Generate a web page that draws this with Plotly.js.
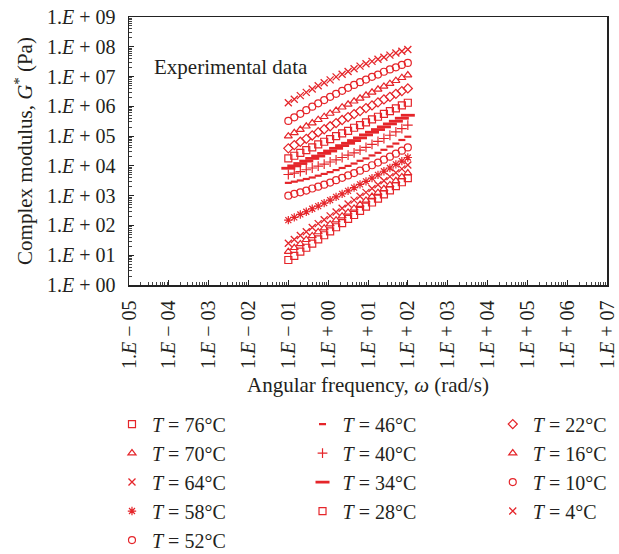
<!DOCTYPE html>
<html>
<head>
<meta charset="utf-8">
<script src="https://cdn.plot.ly/plotly-3.0.1.min.js"></script>
<style>html,body{margin:0;padding:0;background:#fff;}#chart{width:619px;height:554px;}</style>
</head>
<body>
<div id="chart"></div>
<script>
// Angular frequency (rad/s)
const omega = [0.1, 0.141, 0.2, 0.282, 0.398, 0.562, 0.794, 1.12, 1.58, 2.24, 3.16, 4.47, 6.31, 8.91, 12.6, 17.8, 25.1, 35.5, 50.1, 70.8, 100];

// Complex modulus G* (Pa) per temperature
const g76 = [6.92, 9.55, 13.2, 17.8, 24.5, 33.9, 46.8, 63.1, 87.1, 120, 166, 224, 309, 427, 589, 794, 1.10e3, 1.51e3, 2.09e3, 2.82e3, 3.89e3];
const g70 = [13.2, 17.8, 24.0, 33.1, 44.7, 60.3, 81.3, 110, 151, 204, 275, 372, 501, 692, 933, 1.26e3, 1.70e3, 2.29e3, 3.16e3, 4.27e3, 5.75e3];
const g64 = [25.1, 33.9, 45.7, 61.7, 85.1, 115, 155, 209, 282, 380, 525, 708, 955, 1.29e3, 1.74e3, 2.34e3, 3.16e3, 4.37e3, 5.89e3, 7.94e3, 1.07e4];
const g58 = [151, 186, 234, 288, 363, 447, 562, 708, 912, 1.15e3, 1.45e3, 1.86e3, 2.40e3, 3.02e3, 3.89e3, 5.01e3, 6.61e3, 8.51e3, 1.12e4, 1.45e4, 1.91e4];
const g52 = [1.00e3, 1.15e3, 1.29e3, 1.48e3, 1.74e3, 2.00e3, 2.34e3, 2.75e3, 3.31e3, 3.98e3, 4.79e3, 5.75e3, 6.92e3, 8.51e3, 1.05e4, 1.29e4, 1.62e4, 2.04e4, 2.57e4, 3.24e4, 4.17e4];
const g46 = [2.69e3, 2.95e3, 3.24e3, 3.63e3, 4.07e3, 4.68e3, 5.37e3, 6.17e3, 7.24e3, 8.51e3, 1.00e4, 1.20e4, 1.48e4, 1.78e4, 2.24e4, 2.75e4, 3.47e4, 4.47e4, 5.62e4, 7.41e4, 9.55e4];
const g40 = [5.13e3, 5.75e3, 6.46e3, 7.41e3, 8.51e3, 9.77e3, 1.15e4, 1.35e4, 1.58e4, 1.91e4, 2.29e4, 2.75e4, 3.39e4, 4.17e4, 5.25e4, 6.61e4, 8.32e4, 1.07e5, 1.38e5, 1.78e5, 2.34e5];
const g34 = [8.32e3, 1.00e4, 1.20e4, 1.45e4, 1.78e4, 2.14e4, 2.63e4, 3.16e4, 3.89e4, 4.79e4, 5.75e4, 7.08e4, 8.71e4, 1.10e5, 1.35e5, 1.66e5, 2.04e5, 2.57e5, 3.16e5, 3.98e5, 5.01e5];
const g28 = [1.78e4, 2.19e4, 2.75e4, 3.39e4, 4.17e4, 5.25e4, 6.46e4, 7.94e4, 1.00e5, 1.23e5, 1.51e5, 1.91e5, 2.34e5, 2.88e5, 3.63e5, 4.47e5, 5.62e5, 6.92e5, 8.51e5, 1.07e6, 1.32e6];
const g22 = [3.89e4, 5.01e4, 6.46e4, 8.13e4, 1.05e5, 1.35e5, 1.70e5, 2.14e5, 2.75e5, 3.47e5, 4.37e5, 5.50e5, 6.92e5, 8.71e5, 1.07e6, 1.35e6, 1.70e6, 2.09e6, 2.63e6, 3.24e6, 3.98e6];
const g16 = [1.00e5, 1.29e5, 1.66e5, 2.14e5, 2.75e5, 3.55e5, 4.47e5, 5.75e5, 7.24e5, 9.33e5, 1.17e6, 1.48e6, 1.86e6, 2.34e6, 2.95e6, 3.72e6, 4.68e6, 5.75e6, 7.24e6, 9.12e6, 1.12e7];
const g10 = [3.24e5, 4.27e5, 5.62e5, 7.41e5, 9.77e5, 1.26e6, 1.62e6, 2.09e6, 2.63e6, 3.31e6, 4.17e6, 5.25e6, 6.46e6, 7.94e6, 9.77e6, 1.17e7, 1.45e7, 1.74e7, 2.04e7, 2.45e7, 2.88e7];
const g4  = [1.32e6, 1.74e6, 2.29e6, 2.95e6, 3.80e6, 4.90e6, 6.17e6, 7.76e6, 9.77e6, 1.20e7, 1.48e7, 1.82e7, 2.24e7, 2.69e7, 3.24e7, 3.80e7, 4.47e7, 5.25e7, 6.17e7, 7.08e7, 8.13e7];

const temps = ['76', '70', '64', '58', '52', '46', '40', '34', '28', '22', '16', '10', '4'];

// Axis tick labels
const xTickVals = [1e-5, 1e-4, 1e-3, 1e-2, 1e-1, 1e0, 1e1, 1e2, 1e3, 1e4, 1e5, 1e6, 1e7];
const xTickText = ['1.<i>E</i> \u2212 05', '1.<i>E</i> \u2212 04', '1.<i>E</i> \u2212 03', '1.<i>E</i> \u2212 02', '1.<i>E</i> \u2212 01',
  '1.<i>E</i> + 00', '1.<i>E</i> + 01', '1.<i>E</i> + 02', '1.<i>E</i> + 03', '1.<i>E</i> + 04', '1.<i>E</i> + 05', '1.<i>E</i> + 06', '1.<i>E</i> + 07'];
const yTickVals = [1e0, 1e1, 1e2, 1e3, 1e4, 1e5, 1e6, 1e7, 1e8, 1e9];
const yTickText = ['1.<i>E</i> + 00', '1.<i>E</i> + 01', '1.<i>E</i> + 02', '1.<i>E</i> + 03', '1.<i>E</i> + 04',
  '1.<i>E</i> + 05', '1.<i>E</i> + 06', '1.<i>E</i> + 07', '1.<i>E</i> + 08', '1.<i>E</i> + 09'];

const RED = '#e5252a';
const TXT = '#231f20';
const FONT = 'Liberation Serif, Times New Roman, serif';

const series = [g76, g70, g64, g58, g52, g46, g40, g34, g28, g22, g16, g10, g4];
const symbols = ['square-open', 'triangle-up-open', 'x-thin-open', 'asterisk-open', 'circle-open',
  'line-ew-open', 'cross-thin-open', 'line-ew-open', 'square-open',
  'diamond-open', 'triangle-up-open', 'circle-open', 'x-thin-open'];
const sizes = [7, 7, 7, 7, 7, 5, 7, 10, 7, 7, 7, 7, 7];
const widths = [1.2, 1.2, 1.3, 1.2, 1.2, 2.2, 1.2, 2.8, 1.2, 1.2, 1.2, 1.2, 1.3];
const legendIds = ['legend', 'legend', 'legend', 'legend', 'legend',
  'legend2', 'legend2', 'legend2', 'legend2',
  'legend3', 'legend3', 'legend3', 'legend3'];

const traces = series.map((g, i) => ({
  type: 'scatter',
  mode: 'markers',
  x: omega,
  y: g,
  name: '<i>T</i> = ' + temps[i] + '\u00B0C',
  legend: legendIds[i],
  marker: {
    symbol: symbols[i],
    size: sizes[i],
    color: RED,
    line: {color: RED, width: widths[i]}
  },
  cliponaxis: false
}));

const legendBase = {
  orientation: 'v',
  bgcolor: 'rgba(0,0,0,0)',
  borderwidth: 0,
  font: {family: FONT, size: 20, color: TXT},
  xanchor: 'left',
  yanchor: 'top',
  y: -0.446,
  traceorder: 'normal',
  itemclick: false
};

const layout = {
  width: 619,
  height: 554,
  margin: {l: 129, r: 12, t: 17, b: 269, autoexpand: false},
  paper_bgcolor: '#ffffff',
  plot_bgcolor: '#ffffff',
  font: {family: FONT, size: 20, color: TXT},
  showlegend: true,
  legend: Object.assign({}, legendBase, {x: -0.0356}),
  legend2: Object.assign({}, legendBase, {x: 0.363}),
  legend3: Object.assign({}, legendBase, {x: 0.761}),
  xaxis: {
    type: 'log',
    range: [-5, 7],
    tickmode: 'array',
    tickvals: xTickVals,
    ticktext: xTickText,
    tickangle: -90,
    ticks: 'inside',
    ticklen: 5,
    tickcolor: '#222',
    ticklabelstandoff: 6,
    minor: {ticks: 'inside', ticklen: 3, dtick: 'D1', tickcolor: '#444', showgrid: false},
    showgrid: false,
    zeroline: false,
    showline: true,
    linecolor: '#222',
    linewidth: 1.5,
    mirror: true,
    automargin: false,
    tickfont: {family: FONT, size: 20, color: TXT},
    title: {text: 'Angular frequency, <i>\u03C9</i> (rad/s)', font: {family: FONT, size: 21, color: TXT}, standoff: 9}
  },
  yaxis: {
    type: 'log',
    range: [0, 9],
    tickmode: 'array',
    tickvals: yTickVals,
    ticktext: yTickText,
    ticks: 'inside',
    ticklen: 5,
    tickcolor: '#222',
    ticklabelstandoff: 8,
    minor: {ticks: 'inside', ticklen: 3, dtick: 'D1', tickcolor: '#444', showgrid: false},
    showgrid: false,
    zeroline: false,
    showline: true,
    linecolor: '#222',
    linewidth: 1.5,
    mirror: true,
    automargin: false,
    tickfont: {family: FONT, size: 20, color: TXT},
    title: {text: 'Complex modulus, <i>G</i><sup>*</sup> (Pa)', font: {family: FONT, size: 21, color: TXT}, standoff: 8}
  },
  annotations: [{
    xref: 'paper', yref: 'paper',
    x: 0.048, y: 0.812,
    xanchor: 'left', yanchor: 'middle',
    text: 'Experimental data',
    showarrow: false,
    font: {family: FONT, size: 21, color: TXT}
  }]
};

Plotly.newPlot('chart', traces, layout, {displayModeBar: false, staticPlot: true});
</script>
</body>
</html>
